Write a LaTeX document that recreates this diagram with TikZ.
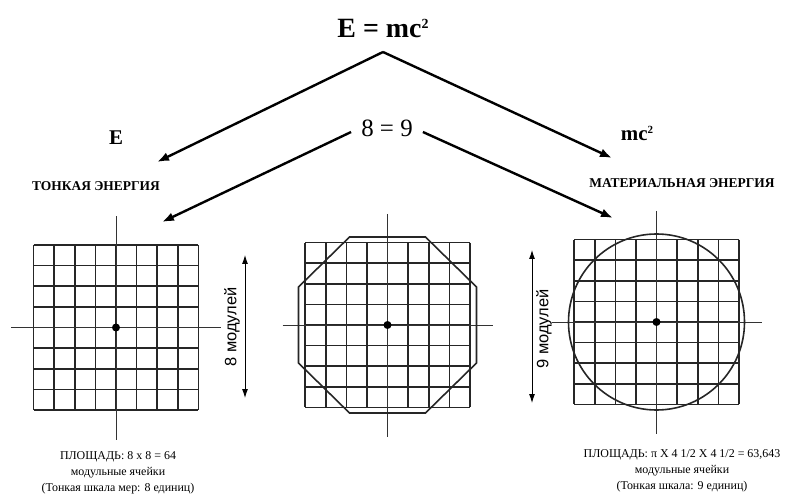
\documentclass[tikz,border=0pt]{standalone}
\usepackage{fontspec}
\setmainfont{Liberation Serif}
\newfontfamily\labelsans{Liberation Sans}
\usetikzlibrary{arrows.meta}

\tikzset{
  gridline/.style={line width=1.6bp, black!85},
  axisline/.style={line width=0.8bp, black!80},
  bigarrow/.style={line width=2.4bp, -{Latex[length=12bp,width=9bp]}},
  sizearrow/.style={line width=0.9bp, {Latex[length=9bp,width=6bp]}-{Latex[length=9bp,width=6bp]}},
  centredot/.style={circle, fill=black, inner sep=0pt, minimum size=8bp},
  outline/.style={line width=1.6bp, black!85},
  energy/.style={font=\fontsize{13.5}{15}\selectfont\bfseries},
  caption/.style={font=\fontsize{12}{16}\selectfont, align=center},
  modules/.style={rotate=90, font=\labelsans\fontsize{16.5}{18}\selectfont},
}

\begin{document}
\begin{tikzpicture}[x=1bp, y=-1bp]
    \useasboundingbox (0,0) rectangle (791,495);

    % --- formula and the two kinds of energy ---
    \node[font=\fontsize{28}{30}\selectfont\bfseries] (emc) at (383,28)
      {E = mc\raisebox{9bp}{\fontsize{14}{14}\selectfont 2}};
    \coordinate (apex) at (383,52);
    \node[font=\fontsize{21}{24}\selectfont\bfseries] (E) at (116,138) {E};
    \node[font=\fontsize{21}{24}\selectfont\bfseries] (mc) at (637,133)
      {mc\raisebox{7bp}{\fontsize{11}{11}\selectfont 2}};
    \node[font=\fontsize{25}{28}\selectfont, inner sep=10bp] (eq) at (387,128) {8 = 9};
    \node[energy] (subtle) at (96,186) {ТОНКАЯ ЭНЕРГИЯ};
    \node[energy] (matter) at (682,183) {МАТЕРИАЛЬНАЯ ЭНЕРГИЯ};

    % --- arrows ---
    \coordinate (tipE) at (157,162);
    \coordinate (tipM) at (612,158);
    \coordinate (tipS) at (162,222);
    \coordinate (tipR) at (613,218);
    \draw[bigarrow] (apex) -- (tipE);
    \draw[bigarrow] (apex) -- (tipM);
    \draw[bigarrow] ([yshift=-4bp]eq.west) -- (tipS);
    \draw[bigarrow] ([yshift=-4bp]eq.east) -- (tipR);

    % --- three 8x8 module grids: (index, centre x, centre y) ---
    \foreach \n/\cx/\cy in {1/116/327.5, 2/387.5/325, 3/656.5/322}{
      \foreach \i in {-4,...,4}{
        \draw[gridline] (\cx+\i*20.6,\cy-82.4) -- (\cx+\i*20.6,\cy+82.4);
        \draw[gridline] (\cx-82.4,\cy+\i*20.6) -- (\cx+82.4,\cy+\i*20.6);
      }
      \draw[axisline] (\cx-105,\cy) -- (\cx+105,\cy);
      \draw[axisline] (\cx,\cy-111) -- (\cx,\cy+112);
      \node[centredot] (o\n) at (\cx,\cy) {};
    }

    % octagon over the middle grid, circle over the right one
    \draw[outline] (o2) ++(-38,-88) -- ++(76,0) -- ++(51,50) -- ++(0,76)
      -- ++(-51,50) -- ++(-76,0) -- ++(-51,-50) -- ++(0,-76) -- cycle;
    \draw[outline] (o3) circle[radius=88bp];

    % --- module counts ---
    \coordinate (s8top) at (245,255);
    \coordinate (s8bot) at (245,398);
    \draw[sizearrow] (s8top) -- (s8bot);
    \node[modules] (m8) at (232,327) {8 модулей};
    \coordinate (s9top) at (532,250);
    \coordinate (s9bot) at (532,403);
    \draw[sizearrow] (s9top) -- (s9bot);
    \node[modules] (m9) at (544,329) {9 модулей};

    % --- areas ---
    \node[caption] (area8) at (118,473)
      {ПЛОЩАДЬ: 8 x 8 = 64\\модульные ячейки\\(Тонкая шкала мер: 8 единиц)};
    \node[caption] (area9) at (682,471)
      {ПЛОЩАДЬ: π X 4 1/2 X 4 1/2 = 63,643\\модульные ячейки\\(Тонкая шкала: 9 единиц)};
  \end{tikzpicture}
\end{document}
